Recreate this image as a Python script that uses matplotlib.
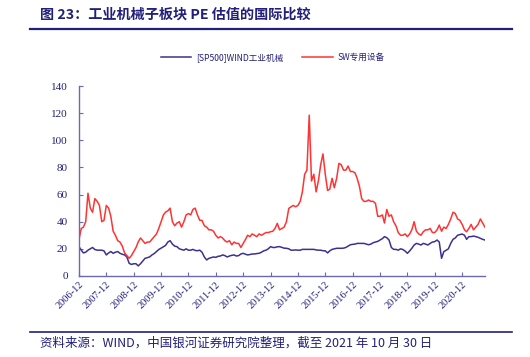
import matplotlib

matplotlib.use("Agg")
import matplotlib.pyplot as plt
import pandas as pd

# monthly PE, 2006-12 .. 2021-10
start_month = "2006-12-31"

sp500_machinery = [
    21.6, 19, 17, 17.5, 19, 20, 21, 19.5, 19, 19, 19, 18.5,
    15.5, 17, 18, 16.7, 17.5, 18, 16.7, 16, 15.5, 14, 9.3, 8.5,
    9, 9, 7.4, 9, 11, 13, 13.5, 14, 15.5, 16.5, 18, 19.5,
    20.5, 21.6, 22.5, 25, 26, 23.5, 22, 21.6, 20, 19.5, 19, 20,
    19, 19, 19.6, 18.8, 18.6, 19, 17.5, 14, 11.8, 13, 13.5, 14,
    13.7, 14.5, 14.7, 15.5, 15, 14, 14.7, 15.2, 15.5, 14.7, 15, 16.2,
    16.7, 16, 15.5, 15.8, 16.2, 16.2, 16.5, 16.7, 17.5, 18.5, 19, 20,
    21.6, 21, 21, 21.5, 21.6, 21, 20.5, 20.4, 20, 19, 19, 19.2,
    19, 19, 19.6, 19.6, 19.6, 19.6, 19.6, 19.6, 19.2, 19, 19, 18.6,
    18.5, 17, 18.5, 19.6, 20, 20.4, 20.4, 20.4, 20.5, 21, 22, 23,
    23.3, 23.5, 24, 24, 24, 24, 23.5, 23, 23.5, 24.5, 25, 25.5,
    26.5, 27.5, 29, 28.2, 26.5, 21, 19.6, 19.6, 19, 20, 19.5, 18.4,
    16.7, 18.5, 20.4, 22.8, 24, 23.5, 22.8, 24, 23.5, 22.8, 24, 25,
    25.3, 26.5, 25, 13, 17.9, 19, 20, 24, 27, 28, 30, 30.5,
    30.9, 30, 27, 29, 29, 29.4, 29, 28.5, 27.7, 27, 26.5,
]

sw_special_equipment = [
    27, 35, 36, 40, 61, 50, 47, 57, 55, 52, 40, 41,
    52, 50, 44, 33, 30, 26, 25, 22, 17, 15, 13, 15,
    18, 21, 25, 28, 26, 24, 25, 25, 27, 29, 31, 35,
    40, 45, 47, 48, 50, 40, 37, 39, 40, 36, 40, 45,
    46, 45, 49, 50, 45, 41, 41, 37, 36, 34, 34, 33,
    30, 28, 29, 28, 26, 25, 26, 23, 25, 24, 24, 21,
    24, 27, 30, 29, 31, 30, 29, 31, 30, 31, 32, 32,
    32.6, 33, 35, 38.8, 34, 35, 36, 40, 49.8, 51, 52, 51,
    52, 55, 62, 75, 78, 118.5, 70, 75, 62, 70, 82, 90,
    75, 63, 64, 72, 65, 72, 83, 82, 78, 78, 81, 77,
    77, 76, 72, 66, 57, 55, 55, 56, 55, 55, 53.5, 44,
    44, 45, 39, 49, 44, 45, 40, 37, 32, 30, 30, 31,
    29, 31, 34, 40, 33, 31, 30, 32.6, 34, 34, 35, 32,
    32, 34, 37.5, 33, 36, 35, 38, 42, 47, 46, 42, 41,
    38, 34, 32.6, 35, 38, 34, 36, 38, 42, 39, 36,
]

series_labels = ["[SP500]WIND工业机械", "SW专用设备"]
tick_labels = [f"{y}-12" for y in range(2006, 2021)]

NAVY = "#22207a"
BLUE = "#3a3192"
RED = "#ff3333"
AXIS = "#6b69b5"
CJK = ["Noto Sans CJK SC", "DejaVu Sans"]

dates = pd.date_range(start_month, periods=len(sp500_machinery), freq="ME")
tick_dates = [pd.Timestamp(f"{y}-12-31") for y in range(2006, 2021)]

fig = plt.figure(figsize=(5.3, 3.57), dpi=100)
ax = fig.add_axes([0.149, 0.227, 0.766, 0.532])

ax.plot(dates, sp500_machinery, color=BLUE, lw=1.1, label=series_labels[0])
ax.plot(dates, sw_special_equipment, color=RED, lw=1.1, label=series_labels[1])

ax.set_xlim(dates[0], dates[-1])
ax.set_ylim(0, 140)
ax.set_yticks(range(0, 141, 20))
ax.set_xticks(tick_dates)
ax.set_xticklabels(tick_labels, rotation=45, ha="right", rotation_mode="anchor",
                   family="Liberation Serif", fontsize=7.5, color=NAVY)
for lab in ax.get_yticklabels():
    lab.set_family("Liberation Serif")
    lab.set_fontsize(8)
    lab.set_color(NAVY)

for side in ["top", "right"]:
    ax.spines[side].set_visible(False)
for side in ["left", "bottom"]:
    ax.spines[side].set_color(AXIS)
    ax.spines[side].set_linewidth(1.0)
ax.tick_params(axis="both", direction="in", color=AXIS, length=3, width=0.8)
ax.tick_params(axis="y", pad=8)
ax.tick_params(axis="x", pad=3)

fig.legend(loc="center", bbox_to_anchor=(0.515, 0.838), ncol=2, frameon=False,
           prop={"family": CJK, "size": 6.2}, labelcolor=NAVY,
           handlelength=3.5, handletextpad=0.6, columnspacing=2.2)

# header / footer
fig.text(0.075, 0.958, "图 23：工业机械子板块 PE 估值的国际比较", family=CJK,
         fontsize=10.2, fontweight="bold", color=NAVY, va="center", ha="left")
fig.add_artist(plt.Line2D([0.057, 0.966], [0.919, 0.919], color=NAVY, lw=1.6))
fig.add_artist(plt.Line2D([0.057, 0.966], [0.07, 0.07], color=NAVY, lw=1.2))
fig.text(0.075, 0.038, "资料来源：WIND，中国银河证券研究院整理，截至 2021 年 10 月 30 日",
         family=CJK, fontsize=9, color=NAVY, va="center", ha="left", style="italic")

fig.savefig("out.png", dpi=100)
plt.close(fig)
